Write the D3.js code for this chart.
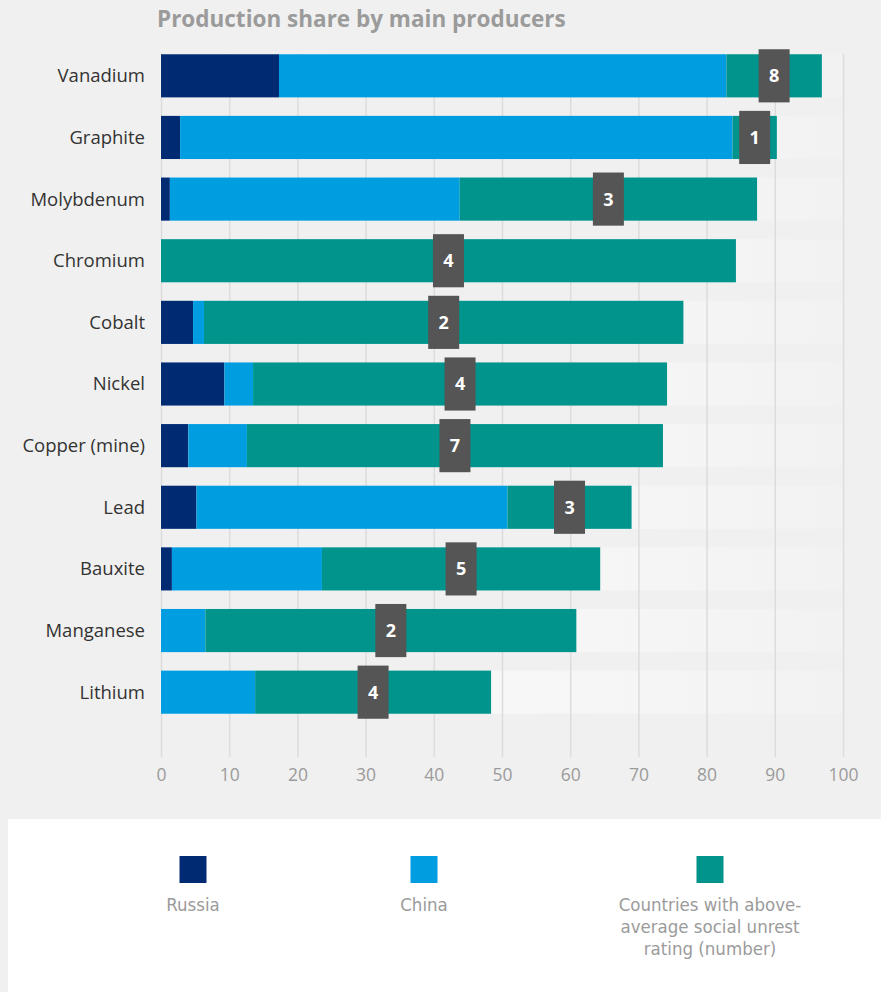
<!DOCTYPE html>
<html>
<head>
<meta charset="utf-8">
<script src="https://cdn.jsdelivr.net/npm/d3@7"></script>
<style>
  body { margin: 0; background: #f0f0f0; }
  svg { display: block; font-family: "Open Sans", "Noto Sans", sans-serif; }
</style>
</head>
<body>
<div id="chart"></div>
<script>
const width = 881, height = 992;

// data (percent of world production)
const minerals = ["Vanadium", "Graphite", "Molybdenum", "Chromium", "Cobalt", "Nickel",
                  "Copper (mine)", "Lead", "Bauxite", "Manganese", "Lithium"];
const russia = [17.3, 2.8, 1.3, 0, 4.7, 9.3, 4.0, 5.2, 1.6, 0, 0];
const china  = [65.6, 81.0, 42.5, 0, 1.6, 4.2, 8.6, 45.6, 22.0, 6.5, 13.8];
const unrest = [14.0, 6.5, 43.6, 84.3, 70.3, 60.7, 61.0, 18.2, 40.8, 54.4, 34.6];
const unrestCount = [8, 1, 3, 4, 2, 4, 7, 3, 5, 2, 4];
const xTicks = [0, 10, 20, 30, 40, 50, 60, 70, 80, 90, 100];

const series = ["Russia", "China", "Countries with above-average social unrest rating (number)"];
const colors = ["#002b73", "#009ee0", "#00948c"];

const rows = minerals.map((m, i) => ({
  name: m, Russia: russia[i], China: china[i],
  [series[2]]: unrest[i], count: unrestCount[i]
}));

const svg = d3.select("#chart")
  .append("svg")
  .attr("width", width)
  .attr("height", height);

const x = d3.scaleLinear().domain([0, 100]).range([161, 843]);
const y = d3.scaleBand().domain(minerals).range([45, 723])
  .paddingInner(0.3).paddingOuter(0.15);
const color = d3.scaleOrdinal().domain(series).range(colors);

const defs = svg.append("defs");
const grad = defs.append("linearGradient")
  .attr("id", "track")
  .attr("gradientUnits", "userSpaceOnUse")
  .attr("x1", x(0)).attr("x2", x(100)).attr("y1", 0).attr("y2", 0);
grad.append("stop").attr("offset", "0%").attr("stop-color", "#fdfdfd");
grad.append("stop").attr("offset", "100%").attr("stop-color", "#f2f2f2");

// title
svg.append("text")
  .attr("x", 157)
  .attr("y", 27)
  .text("Production share by main producers")
  .attr("font-size", "22.5px")
  .attr("font-weight", "bold")
  .attr("fill", "#9b9b9b");

// background tracks up to 100%
svg.append("g")
  .selectAll("rect")
  .data(minerals)
  .join("rect")
  .attr("x", x(0) - 1)
  .attr("y", d => y(d))
  .attr("width", x(100) - x(0) + 1)
  .attr("height", y.bandwidth())
  .attr("fill", "url(#track)");

// gridlines + tick labels
const axisY = 757;
const axis = svg.append("g")
  .attr("transform", `translate(0,${axisY})`)
  .call(d3.axisBottom(x).tickValues(xTicks).tickFormat(d3.format("d"))
    .tickSizeInner(-(axisY - y(minerals[0]))).tickSizeOuter(0).tickPadding(12));
axis.select(".domain").remove();
axis.selectAll("line").attr("stroke", "#dcdcdc").attr("stroke-width", 1.5);
axis.selectAll("text")
  .attr("fill", "#9b9b9b")
  .attr("font-size", "17.5px")
  .attr("font-family", "'Open Sans', sans-serif");

// stacked bars
const stacked = d3.stack().keys(series)(rows);
svg.append("g")
  .selectAll("g")
  .data(stacked)
  .join("g")
  .attr("fill", d => color(d.key))
  .selectAll("rect")
  .data(d => d)
  .join("rect")
  .attr("x", d => x(d[0]))
  .attr("y", d => y(d.data.name))
  .attr("width", d => x(d[1]) - x(d[0]))
  .attr("height", y.bandwidth());

// number badges centred on the green segment
const last = stacked[2];
const badgeW = 31, badgeOver = 5;
const badges = svg.append("g")
  .selectAll("g")
  .data(last)
  .join("g")
  .attr("transform", d => `translate(${x((d[0] + d[1]) / 2)},${y(d.data.name) + y.bandwidth() / 2})`);
badges.append("rect")
  .attr("x", -badgeW / 2)
  .attr("y", -y.bandwidth() / 2 - badgeOver)
  .attr("width", badgeW)
  .attr("height", y.bandwidth() + badgeOver * 2)
  .attr("fill", "#555555");
badges.append("text")
  .attr("text-anchor", "middle")
  .attr("dy", "0.36em")
  .attr("fill", "white")
  .attr("font-size", "18px")
  .attr("font-weight", "bold")
  .text(d => d.data.count);

// category labels
svg.append("g")
  .selectAll("text")
  .data(minerals)
  .join("text")
  .attr("x", 145)
  .attr("y", d => y(d) + y.bandwidth() / 2)
  .attr("dy", "0.35em")
  .attr("text-anchor", "end")
  .attr("font-size", "18.5px")
  .attr("fill", "#333")
  .text(d => d);

// legend panel
svg.append("rect")
  .attr("x", 8)
  .attr("y", 819)
  .attr("width", width - 8)
  .attr("height", height - 819)
  .attr("fill", "white");

const legendX = [193, 424, 710];
const legendLines = [["Russia"], ["China"], ["Countries with above-", "average social unrest", "rating (number)"]];
const legend = svg.append("g")
  .selectAll("g")
  .data(series)
  .join("g")
  .attr("transform", (d, i) => `translate(${legendX[i]},0)`);
legend.append("rect")
  .attr("x", -13.5)
  .attr("y", 856)
  .attr("width", 27)
  .attr("height", 27)
  .attr("fill", d => color(d));
legend.append("text")
  .attr("text-anchor", "middle")
  .attr("font-family", "'DejaVu Sans Condensed', 'DejaVu Sans', sans-serif")
  .attr("font-stretch", "condensed")
  .attr("font-size", "18.5px")
  .attr("fill", "#9b9b9b")
  .selectAll("tspan")
  .data((d, i) => legendLines[i])
  .join("tspan")
  .attr("x", 0)
  .attr("y", (d, j) => 911 + j * 21.8)
  .text(d => d);
</script>
</body>
</html>
